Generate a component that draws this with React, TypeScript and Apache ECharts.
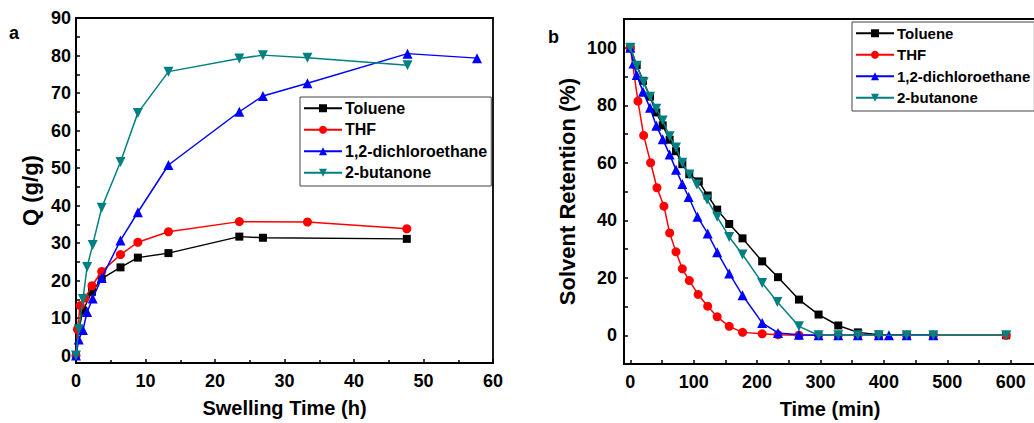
import React, { useEffect, useRef } from "react";
import * as echarts from "echarts";

// ---------- Panel a : swelling ----------
const seriesNames = ["Toluene", "THF", "1,2-dichloroethane", "2-butanone"];
const seriesColors = ["#000000", "#ff0000", "#0000ff", "#008080"];
const seriesSymbols = ["rect", "circle", "triangle", "triangle"];
const seriesRotate = [0, 0, 0, 180];

const swellTolueneX = [0, 0.4, 1, 2.3, 3.7, 6.4, 8.9, 13.3, 23.5, 26.9, 47.6];
const swellTolueneY = [0, 7, 12, 17, 20.5, 23.5, 26.1, 27.3, 31.7, 31.4, 31.1];
const swellThfX = [0, 0.2, 0.6, 1.3, 2.3, 3.7, 6.4, 8.9, 13.3, 23.5, 33.3, 47.6];
const swellThfY = [0, 7, 13.3, 15.3, 18.6, 22.4, 26.9, 30.2, 33, 35.7, 35.6, 33.8];
const swellDceX = [0, 0.4, 1, 1.6, 2.4, 3.7, 6.4, 8.9, 13.3, 23.5, 26.9, 33.3, 47.7, 57.7];
const swellDceY = [0, 4.3, 6.8, 11.6, 15.2, 20.7, 30.7, 38.2, 50.8, 65, 69.2, 72.6, 80.5, 79.3];
const swellButX = [0, 0.4, 1, 1.6, 2.4, 3.7, 6.4, 8.9, 13.3, 23.5, 26.9, 33.3, 47.7];
const swellButY = [0, 7, 15.1, 23.6, 29.5, 39.4, 51.6, 64.7, 75.7, 79.2, 80.1, 79.4, 77.4];

const swellYLabels = [0, 10, 20, 30, 40, 50, 60, 70, 80, 90];
const swellYTicks = [0, 5, 10, 15, 20, 25, 30, 35, 40, 45, 50, 55, 60, 65, 70, 75, 80, 85, 90];

// ---------- Panel b : retention ----------
const retTolueneX = [0, 10, 20, 31, 41, 51, 62, 72, 82, 93, 108, 122, 137, 156, 177, 208, 233, 266, 297, 328, 359, 392, 436, 478, 593];
const retTolueneY = [100, 94, 88.5, 83, 77.5, 73, 68, 64, 59.5, 56, 53.5, 48.6, 43.7, 38.7, 33.7, 25.7, 20.2, 12.4, 7.2, 3.4, 1.0, 0.2, 0, 0, 0];
const retThfX = [0, 12, 21, 32, 42, 53, 62, 72, 82, 93, 107, 122, 137, 156, 177, 208, 233, 266, 297, 328, 359, 392, 436, 478, 593];
const retThfY = [100, 81.4, 69.5, 60, 51.3, 44.9, 35.6, 29, 23.1, 19, 14.2, 10.1, 6.4, 3.1, 1.0, 0.5, 0.2, 0, 0, 0, 0, 0, 0, 0, 0];
const retDceX = [0, 5, 10, 20, 31, 41, 51, 62, 72, 82, 92, 106, 122, 137, 156, 177, 208, 233, 266, 297, 328, 359, 392, 408, 436, 478];
const retDceY = [100, 94.5, 90.5, 84.7, 79.1, 72.9, 68.2, 62.9, 57.6, 52.6, 48.1, 41.2, 35.4, 28.9, 21.5, 13.9, 4.3, 0.8, 0.2, 0, 0, 0, 0, 0, 0, 0];
const retButX = [0, 10, 21, 31, 41, 51, 62, 72, 82, 93, 105, 121, 137, 156, 177, 208, 232, 266, 297, 328, 359, 392, 436, 478, 593];
const retButY = [100, 93.7, 88, 83, 78.8, 74.7, 69.2, 65.3, 60, 55.9, 52.4, 47.2, 41.2, 34.2, 28.1, 18.2, 11.6, 3.1, 0, 0, 0, 0, 0, 0, 0];

const retXLabels = [0, 100, 200, 300, 400, 500, 600];
const retXTicks = [0, 50, 100, 150, 200, 250, 300, 350, 400, 450, 500, 550, 600];
const retYLabels = [0, 20, 40, 60, 80, 100];
const retYTicks = [0, 10, 20, 30, 40, 50, 60, 70, 80, 90, 100];

const FONT = "'Liberation Sans', Arial, sans-serif";

const zip = (xs: number[], ys: number[]) => xs.map((x, i) => [x, ys[i]]);

export default function App() {
  const ref = useRef<HTMLDivElement>(null);

  useEffect(() => {
    if (!ref.current) return;
    const chart = echarts.init(ref.current, null, { renderer: "svg" });

    const swellData = [
      zip(swellTolueneX, swellTolueneY),
      zip(swellThfX, swellThfY),
      zip(swellDceX, swellDceY),
      zip(swellButX, swellButY),
    ];
    const retData = [
      zip(retTolueneX, retTolueneY),
      zip(retThfX, retThfY),
      zip(retDceX, retDceY),
      zip(retButX, retButY),
    ];
    const symSizes = [8, 9, 10, 10];

    const mkSeries = (data: number[][][], idx: number) =>
      data.map((d, i) => ({
        name: seriesNames[i],
        type: "line",
        xAxisIndex: idx,
        yAxisIndex: idx,
        data: d,
        symbol: seriesSymbols[i],
        symbolRotate: seriesRotate[i],
        symbolSize: symSizes[i],
        showAllSymbol: true,
        z: 2 + i,
        lineStyle: { color: seriesColors[i], width: 1.5 },
        itemStyle: { color: seriesColors[i] },
      }));

    const labelStyle = {
      color: "#000",
      fontFamily: FONT,
      fontWeight: "bold",
      fontSize: 18,
    };
    const xNameStyle = {
      color: "#000",
      fontFamily: FONT,
      fontWeight: "bold",
      fontSize: 20,
    };
    const yNameStyle = {
      color: "#000",
      fontFamily: FONT,
      fontWeight: "bold",
      fontSize: 22,
    };
    const axisLineStyle = { show: true, onZero: false, lineStyle: { color: "#000", width: 1.8 } };
    const tickStyle = { color: "#000", width: 1.5 };

    const legendCommon = {
      orient: "vertical",
      itemWidth: 38,
      itemHeight: 10,
      itemGap: 1,
      backgroundColor: "#fff",
      borderColor: "#444",
      borderWidth: 1,
      padding: [1, 4, 3, 3],
      data: seriesNames,
      selectedMode: false,
    };
    const legendText = (size: number) => ({
      color: "#000",
      fontFamily: FONT,
      fontWeight: "bold",
      fontSize: size,
      lineHeight: 20.5,
      padding: [0, 0, 0, -2],
    });

    chart.setOption({
      animation: false,
      backgroundColor: "#fff",
      textStyle: { fontFamily: FONT },
      grid: [
        {
          left: 76, top: 18, width: 417, height: 345,
          show: true, borderColor: "#000", borderWidth: 1.8,
          containLabel: false, outerBoundsMode: "none",
        },
        {
          left: 624, top: 19, width: 412, height: 345,
          show: true, borderColor: "#000", borderWidth: 1.8,
          containLabel: false, outerBoundsMode: "none",
        },
      ],
      legend: [
        { ...legendCommon, left: 300, top: 97, textStyle: legendText(16) },
        { ...legendCommon, left: 852, top: 22, textStyle: legendText(15) },
      ],
      xAxis: [
        {
          type: "value",
          gridIndex: 0,
          min: 0,
          max: 60,
          interval: 10,
          axisLine: axisLineStyle,
          axisTick: { show: true, inside: true, length: 4, lineStyle: tickStyle },
          minorTick: { show: true, splitNumber: 2, length: 3, lineStyle: tickStyle },
          splitLine: { show: false },
          axisLabel: { ...labelStyle, margin: 9 },
          name: "Swelling Time (h)",
          nameLocation: "middle",
          nameGap: 35,
          nameTextStyle: xNameStyle,
        },
        {
          type: "value",
          gridIndex: 1,
          min: -10,
          max: 640,
          axisLine: axisLineStyle,
          axisTick: { show: true, inside: true, length: 4, customValues: retXTicks, lineStyle: tickStyle },
          splitLine: { show: false },
          axisLabel: { ...labelStyle, margin: 9, customValues: retXLabels },
          name: "Time (min)",
          nameLocation: "middle",
          nameGap: 35,
          nameTextStyle: xNameStyle,
        },
      ],
      yAxis: [
        {
          type: "value",
          gridIndex: 0,
          min: -2,
          max: 90,
          axisLine: axisLineStyle,
          axisTick: { show: true, inside: true, length: 4, customValues: swellYTicks, lineStyle: tickStyle },
          splitLine: { show: false },
          axisLabel: { ...labelStyle, margin: 5, customValues: swellYLabels },
          name: "Q (g/g)",
          nameLocation: "middle",
          nameGap: 35,
          nameTextStyle: yNameStyle,
        },
        {
          type: "value",
          gridIndex: 1,
          min: -10,
          max: 110,
          axisLine: axisLineStyle,
          axisTick: { show: true, inside: true, length: 4, customValues: retYTicks, lineStyle: tickStyle },
          splitLine: { show: false },
          axisLabel: { ...labelStyle, margin: 7, customValues: retYLabels },
          name: "Solvent Retention (%)",
          nameLocation: "middle",
          nameGap: 46,
          nameTextStyle: yNameStyle,
        },
      ],
      graphic: [
        {
          type: "text",
          left: 9,
          top: 24,
          style: { text: "a", fill: "#000", font: `bold 18px ${FONT}` },
        },
        {
          type: "text",
          left: 548,
          top: 28,
          style: { text: "b", fill: "#000", font: `bold 18px ${FONT}` },
        },
      ],
      series: [...mkSeries(swellData, 0), ...mkSeries(retData, 1)],
    });

    return () => chart.dispose();
  }, []);

  return (
    <div
      ref={ref}
      style={{ position: "absolute", left: 0, top: 0, width: 1034, height: 423, overflow: "hidden" }}
    />
  );
}
